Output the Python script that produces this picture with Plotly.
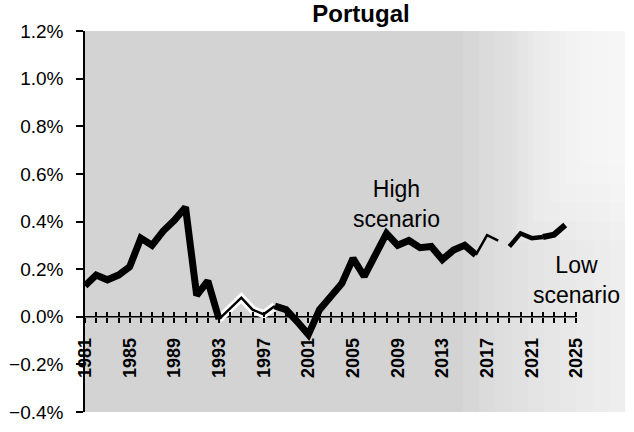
import plotly.graph_objects as go

# Annual contribution, percent
years = list(range(1981, 2025))
values = [
    0.13, 0.175, 0.155, 0.175, 0.21, 0.33, 0.30, 0.36, 0.405, 0.46,   # 1981-1990
    0.09, 0.15, -0.01, 0.035, 0.08, 0.03, 0.01, 0.045, 0.03, -0.02,   # 1991-2000
    -0.075, 0.03, 0.086, 0.14, 0.245, 0.17, 0.26, 0.35, 0.30, 0.32,   # 2001-2010
    0.29, 0.295, 0.24, 0.28, 0.30, 0.26, 0.343, 0.32,                 # 2011-2018
    0.295, 0.35, 0.33, 0.335, 0.345, 0.385,                           # 2019-2024
]

# Tick labels every four years, plain ticks every year
tick_years = list(range(1981, 2026))
tick_labels = [f"<b>{y}</b>" if (y - 1981) % 4 == 0 else "" for y in tick_years]

FONT = "Liberation Sans, Arial, sans-serif"


def seg(y0, y1):
    i0, i1 = years.index(y0), years.index(y1) + 1
    return years[i0:i1], values[i0:i1]


fig = go.Figure()

# white halo under the thin stretch of the line
hx, hy = seg(1993, 1998)
fig.add_trace(go.Scatter(x=hx, y=hy, mode="lines",
                         line=dict(color="white", width=8),
                         hoverinfo="skip", showlegend=False))

segments = [
    ((1981, 1993), 7),
    ((1993, 1998), 2.5),
    ((1998, 2016), 7),
    ((2016, 2018), 2.5),
    ((2019, 2022), 4.5),
    ((2022, 2024), 6),
]
for (a, b), w in segments:
    sx, sy = seg(a, b)
    fig.add_trace(go.Scatter(x=sx, y=sy, mode="lines",
                             line=dict(color="black", width=w),
                             showlegend=False))

# lighter wash toward the right edge of the plot area
shapes = []
for i in range(10):
    shapes.append(dict(type="rect", xref="paper", yref="paper",
                       x0=0.70 + i * 0.03, x1=1.0, y0=0, y1=1,
                       fillcolor="white", opacity=0.1, line_width=0,
                       layer="below"))
for i in range(5):
    shapes.append(dict(type="rect", xref="paper", yref="paper",
                       x0=0.80 + i * 0.03, x1=1.0, y0=0.45 + i * 0.05, y1=1,
                       fillcolor="white", opacity=0.15, line_width=0,
                       layer="below"))
# horizontal axis line at zero, spanning the ticked years only
shapes.append(dict(type="line", xref="x", yref="y",
                   x0=tick_years[0], x1=tick_years[-1], y0=0, y1=0,
                   line=dict(color="black", width=1.5), layer="below"))

fig.update_layout(
    width=634, height=432,
    margin=dict(l=82, r=9, t=31, b=15),
    paper_bgcolor="white",
    plot_bgcolor="#d3d3d3",
    font=dict(family=FONT, color="black", size=18),
    title=dict(text="<b>Portugal</b>", x=361 / 634, xref="container",
               xanchor="center", y=1 - 14 / 432, yref="container",
               yanchor="middle", font=dict(size=24, family=FONT)),
    shapes=shapes,
    xaxis=dict(
        range=[1981, 1981 + 543 / 11.23],
        tickmode="array", tickvals=tick_years, ticktext=tick_labels,
        tickangle=-90, ticks="outside", ticklen=5, tickwidth=1.5,
        tickcolor="black", ticklabelstandoff=8,
        showline=False, showgrid=False, zeroline=False,
        anchor="free", position=0.25,
        tickfont=dict(size=18, family=FONT),
    ),
    xaxis2=dict(
        range=[1981, 1981 + 543 / 11.23], overlaying="x",
        tickmode="array", tickvals=tick_years, ticks="inside",
        ticklen=5, tickwidth=1.5, tickcolor="black",
        showticklabels=False, showline=False, showgrid=False,
        zeroline=False, anchor="free", position=0.25,
    ),
    yaxis=dict(
        range=[-0.4, 1.2], tickmode="linear", tick0=-0.4, dtick=0.2,
        tickformat=".1f", ticksuffix="%",
        ticks="outside", ticklen=7, tickwidth=1.5, tickcolor="black",
        ticklabelstandoff=9,
        showline=True, linecolor="black", linewidth=1.5,
        showgrid=False, zeroline=False,
        tickfont=dict(size=19, family=FONT),
    ),
    annotations=[
        dict(text="High<br>scenario", x=2008.9, y=0.475, xref="x", yref="y",
             showarrow=False, xanchor="center", yanchor="middle",
             font=dict(size=23, family=FONT)),
        dict(text="Low<br>scenario", x=2025.0, y=0.155, xref="x", yref="y",
             showarrow=False, xanchor="center", yanchor="middle",
             font=dict(size=23, family=FONT)),
    ],
)

# invisible trace binding the secondary tick axis
fig.add_trace(go.Scatter(x=[years[0]], y=[values[0]], xaxis="x2",
                         mode="markers", marker=dict(opacity=0),
                         hoverinfo="skip", showlegend=False))

fig.write_html("out.html")
